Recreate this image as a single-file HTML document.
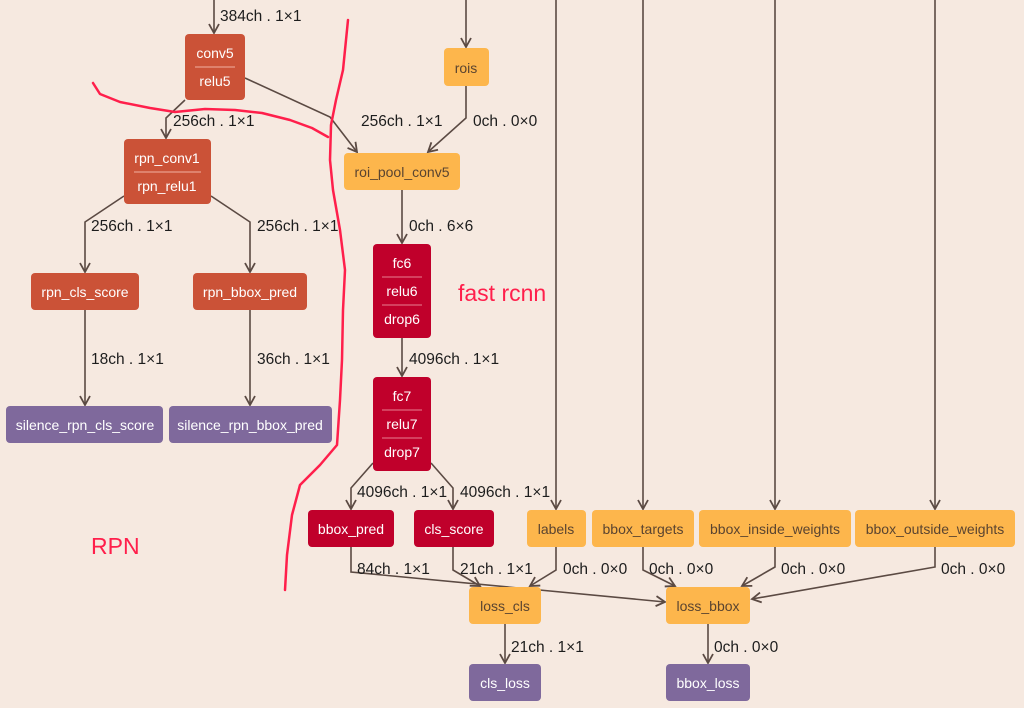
<!DOCTYPE html>
<html><head><meta charset="utf-8"><style>
html,body{margin:0;padding:0;background:#f6e9e0;}
svg{display:block}
.n{font-family:"Liberation Sans",sans-serif;font-size:14px;text-anchor:middle}
.l{font-family:"Liberation Sans",sans-serif;font-size:15.5px;fill:#1d1d1d}
.e{fill:none;stroke:#5b4a43;stroke-width:1.6;marker-end:url(#a)}
</style></head><body>
<svg width="1024" height="708" viewBox="0 0 1024 708">
<defs><marker id="a" markerWidth="14" markerHeight="14" refX="10" refY="6" orient="auto" markerUnits="userSpaceOnUse"><polyline points="1,1 10,6 1,11" fill="none" stroke="#5b4a43" stroke-width="1.8"/></marker></defs>
<rect width="1024" height="708" fill="#f6e9e0"/>
<polyline class="e" points="214,0 214,33"/>
<polyline class="e" points="185,100 166,118 166,138"/>
<polyline class="e" points="245,78 330,117 357,152"/>
<polyline class="e" points="466,0 466,47"/>
<polyline class="e" points="466,86 466,118 428,152"/>
<polyline class="e" points="402,190 402,243"/>
<polyline class="e" points="124,196 85,222 85,272"/>
<polyline class="e" points="211,196 250,222 250,272"/>
<polyline class="e" points="85,310 85,405"/>
<polyline class="e" points="250,310 250,405"/>
<polyline class="e" points="402,338 402,376"/>
<polyline class="e" points="373,463 351,488 351,509"/>
<polyline class="e" points="431,463 453,488 453,509"/>
<polyline class="e" points="556,0 556,509"/>
<polyline class="e" points="643,0 643,509"/>
<polyline class="e" points="775,0 775,509"/>
<polyline class="e" points="935,0 935,509"/>
<polyline class="e" points="351,547 351,572 665,602"/>
<polyline class="e" points="453,547 453,570 480,586"/>
<polyline class="e" points="556,547 556,570 530,586"/>
<polyline class="e" points="643,547 643,570 675,586"/>
<polyline class="e" points="775,547 775,567 742,586"/>
<polyline class="e" points="935,547 935,567 752,599"/>
<polyline class="e" points="505,624 505,663"/>
<polyline class="e" points="708,624 708,663"/>
<g class="l">
<text x="220" y="21">384ch . 1×1</text>
<text x="173" y="126">256ch . 1×1</text>
<text x="361" y="126">256ch . 1×1</text>
<text x="473" y="126">0ch . 0×0</text>
<text x="409" y="231">0ch . 6×6</text>
<text x="91" y="231">256ch . 1×1</text>
<text x="257" y="231">256ch . 1×1</text>
<text x="91" y="364">18ch . 1×1</text>
<text x="257" y="364">36ch . 1×1</text>
<text x="409" y="364">4096ch . 1×1</text>
<text x="357" y="497">4096ch . 1×1</text>
<text x="460" y="497">4096ch . 1×1</text>
<text x="357" y="574">84ch . 1×1</text>
<text x="460" y="574">21ch . 1×1</text>
<text x="563" y="574">0ch . 0×0</text>
<text x="649" y="574">0ch . 0×0</text>
<text x="781" y="574">0ch . 0×0</text>
<text x="941" y="574">0ch . 0×0</text>
<text x="511" y="652">21ch . 1×1</text>
<text x="714" y="652">0ch . 0×0</text>
</g>
<g class="n">
<rect x="185" y="34" width="60" height="66" rx="4" fill="#cb5237"/>
<line x1="195" y1="67" x2="235" y2="67" stroke="#f0b0a0" stroke-width="1"/>
<text x="215" y="58" fill="#fff">conv5</text><text x="215" y="86" fill="#fff">relu5</text>
<rect x="124" y="139" width="87" height="65" rx="4" fill="#cb5237"/>
<line x1="134" y1="172" x2="201" y2="172" stroke="#f0b0a0" stroke-width="1"/>
<text x="167" y="163" fill="#fff">rpn_conv1</text><text x="167" y="191" fill="#fff">rpn_relu1</text>
<rect x="444" y="48" width="45" height="38" rx="4" fill="#fdb64c"/>
<text x="466" y="73" fill="#5a4430">rois</text>
<rect x="344" y="153" width="116" height="37" rx="4" fill="#fdb64c"/>
<text x="402" y="177" fill="#5a4430">roi_pool_conv5</text>
<rect x="373" y="244" width="58" height="94" rx="4" fill="#c0002b"/>
<line x1="382" y1="277" x2="422" y2="277" stroke="#e88090"/><line x1="382" y1="305" x2="422" y2="305" stroke="#e88090"/>
<text x="402" y="268" fill="#fff">fc6</text><text x="402" y="296" fill="#fff">relu6</text><text x="402" y="324" fill="#fff">drop6</text>
<rect x="373" y="377" width="58" height="94" rx="4" fill="#c0002b"/>
<line x1="382" y1="410" x2="422" y2="410" stroke="#e88090"/><line x1="382" y1="438" x2="422" y2="438" stroke="#e88090"/>
<text x="402" y="401" fill="#fff">fc7</text><text x="402" y="429" fill="#fff">relu7</text><text x="402" y="457" fill="#fff">drop7</text>
<rect x="31" y="273" width="108" height="37" rx="4" fill="#cb5237"/><text x="85" y="297" fill="#fff">rpn_cls_score</text>
<rect x="193" y="273" width="114" height="37" rx="4" fill="#cb5237"/><text x="250" y="297" fill="#fff">rpn_bbox_pred</text>
<rect x="6" y="406" width="157" height="37" rx="4" fill="#7f699c"/><text x="85" y="430" fill="#fff">silence_rpn_cls_score</text>
<rect x="169" y="406" width="163" height="37" rx="4" fill="#7f699c"/><text x="250" y="430" fill="#fff">silence_rpn_bbox_pred</text>
<rect x="308" y="510" width="86" height="37" rx="4" fill="#c0002b"/><text x="351" y="534" fill="#fff">bbox_pred</text>
<rect x="414" y="510" width="80" height="37" rx="4" fill="#c0002b"/><text x="454" y="534" fill="#fff">cls_score</text>
<rect x="527" y="510" width="59" height="37" rx="4" fill="#fdb64c"/><text x="556" y="534" fill="#5a4430">labels</text>
<rect x="592" y="510" width="102" height="37" rx="4" fill="#fdb64c"/><text x="643" y="534" fill="#5a4430">bbox_targets</text>
<rect x="699" y="510" width="152" height="37" rx="4" fill="#fdb64c"/><text x="775" y="534" fill="#5a4430">bbox_inside_weights</text>
<rect x="855" y="510" width="160" height="37" rx="4" fill="#fdb64c"/><text x="935" y="534" fill="#5a4430">bbox_outside_weights</text>
<rect x="469" y="587" width="72" height="37" rx="4" fill="#fdb64c"/><text x="505" y="611" fill="#5a4430">loss_cls</text>
<rect x="666" y="587" width="84" height="37" rx="4" fill="#fdb64c"/><text x="708" y="611" fill="#5a4430">loss_bbox</text>
<rect x="469" y="664" width="72" height="37" rx="4" fill="#7f699c"/><text x="505" y="688" fill="#fff">cls_loss</text>
<rect x="666" y="664" width="84" height="37" rx="4" fill="#7f699c"/><text x="708" y="688" fill="#fff">bbox_loss</text>
</g>
<g fill="none" stroke="#ff1f4b" stroke-width="2.5" stroke-linecap="round" stroke-linejoin="round">
<polyline points="348,20 346,40 343,70 336,100 331,125 330,160 333,190 340,230 345,270 343,310 342,360 340,400 337,445 320,465 300,485 292,515 287,555 285,590"/>
<polyline points="93,83 100,94 120,102 150,108 175,112 205,109 235,110 262,113 290,120 312,128 328,137"/>
</g>
<text x="458" y="301" font-family="Liberation Sans,sans-serif" font-size="23" fill="#ff1f4b">fast rcnn</text>
<text x="91" y="554" font-family="Liberation Sans,sans-serif" font-size="23" fill="#ff1f4b">RPN</text>
</svg>
</body></html>
